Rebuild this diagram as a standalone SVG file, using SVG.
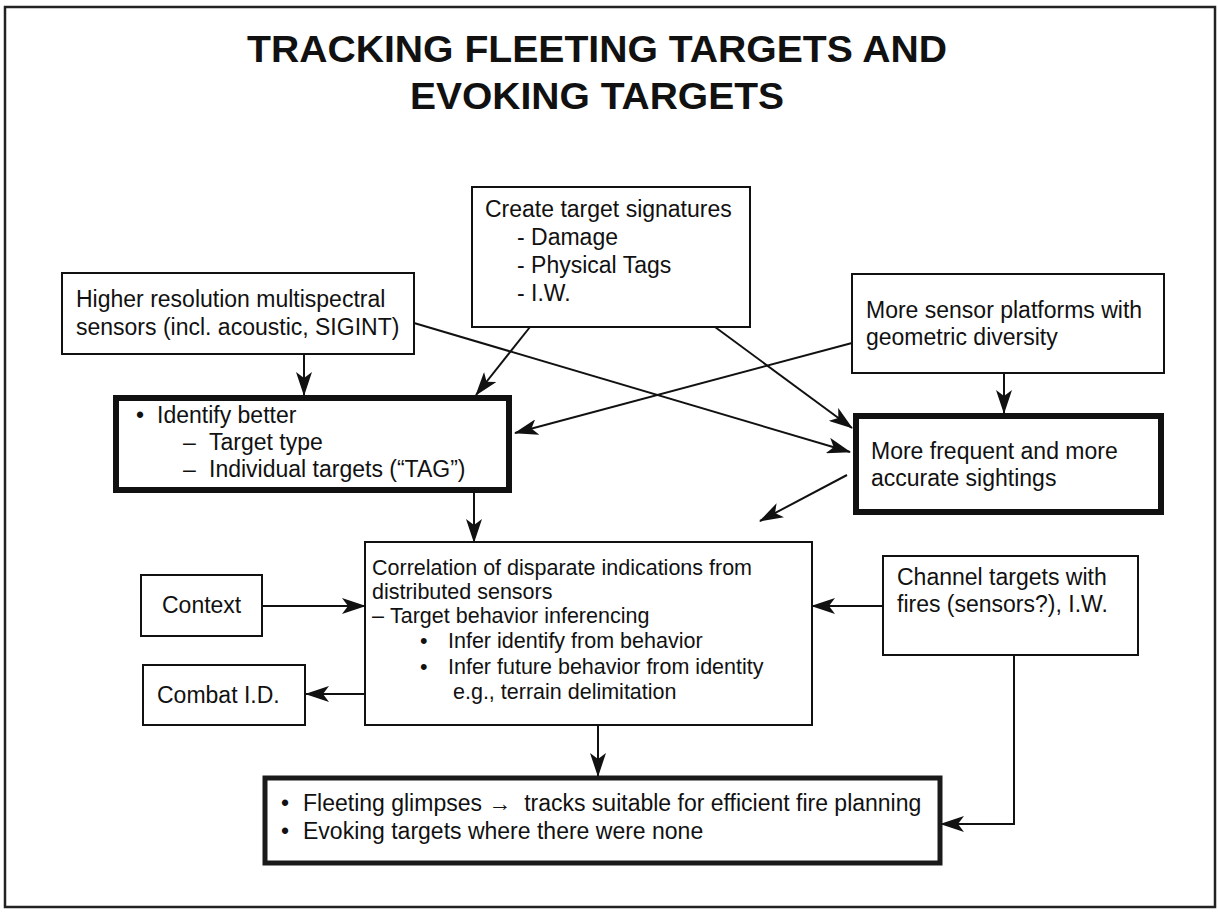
<svg xmlns="http://www.w3.org/2000/svg" width="1218" height="914" viewBox="0 0 1218 914">
<defs>
<style>
.t{font-family:"Liberation Sans",Arial,sans-serif;font-size:23px;fill:#111}
.c{font-family:"Liberation Sans",Arial,sans-serif;font-size:21.5px;fill:#111}
.title{font-family:"Liberation Sans",Arial,sans-serif;font-size:36px;font-weight:bold;fill:#111}
.box{fill:#fff;stroke:#111;stroke-width:2}
.thick{fill:#fff;stroke:#111;stroke-width:6}
.thick5{fill:#fff;stroke:#1a1a1a;stroke-width:5}
.ln{fill:none;stroke:#111;stroke-width:2;marker-end:url(#ah)}
</style>
<marker id="ah" viewBox="0 0 24 16" refX="23" refY="8" markerWidth="24" markerHeight="16" markerUnits="userSpaceOnUse" orient="auto">
<path d="M0,0 L24,8 L0,16 L6,8 z" fill="#111"/>
</marker>
</defs>
<rect x="0" y="0" width="1218" height="914" fill="#fff"/>
<rect x="5" y="7" width="1210" height="900" fill="none" stroke="#222" stroke-width="2.5"/>
<g id="title">
<text class="title" x="597" y="62" text-anchor="middle" textLength="700" lengthAdjust="spacingAndGlyphs">TRACKING FLEETING TARGETS AND</text>
<text class="title" x="597" y="109" text-anchor="middle" textLength="374" lengthAdjust="spacingAndGlyphs">EVOKING TARGETS</text>
</g>
<g id="connectors">
<path class="ln" d="M304,354 V395"/>
<path class="ln" d="M530,327 L476,395"/>
<path class="ln" d="M414,323 L850,452"/>
<path class="ln" d="M715,327 L852,428"/>
<path class="ln" d="M852,343 L515,433"/>
<path class="ln" d="M1004,373 V413"/>
<path class="ln" d="M474,493 V542"/>
<path class="ln" d="M847,475 L760,521"/>
<path class="ln" d="M262,606 H365"/>
<path class="ln" d="M883,606 H812"/>
<path class="ln" d="M365,694 H306"/>
<path class="ln" d="M598,725 V776"/>
<path class="ln" d="M1014,655 V824 H941"/>
<path class="ln" d="M375,654 V641 H402"/>
<path class="ln" d="M375,654 V667 H402"/>
<path class="ln" d="M802,654 V641 H773"/>
<path class="ln" d="M802,654 V667 H773"/>
</g>
<g id="higher">
<rect class="box" x="62" y="273" width="352" height="81"/>
<text class="t" x="76" y="307">Higher resolution multispectral</text>
<text class="t" x="76" y="335">sensors (incl. acoustic, SIGINT)</text>
</g>
<g id="create">
<rect class="box" x="472" y="187" width="278" height="140"/>
<text class="t" x="485" y="217">Create target signatures</text>
<text class="t" x="517" y="245">- Damage</text>
<text class="t" x="517" y="273">- Physical Tags</text>
<text class="t" x="517" y="301">- I.W.</text>
</g>
<g id="sensor-platforms">
<rect class="box" x="852" y="274" width="312" height="99"/>
<text class="t" x="866" y="318">More sensor platforms with</text>
<text class="t" x="866" y="345">geometric diversity</text>
</g>
<g id="identify">
<rect class="thick" x="116" y="398" width="393" height="92"/>
<text class="t" x="136" y="423">•</text>
<text class="t" x="157" y="423">Identify better</text>
<text class="t" x="183" y="450">–</text>
<text class="t" x="209" y="450">Target type</text>
<text class="t" x="183" y="477">–</text>
<text class="t" x="209" y="477">Individual targets (“TAG”)</text>
</g>
<g id="sightings">
<rect class="thick" x="856" y="416" width="305" height="96"/>
<text class="t" x="871" y="459">More frequent and more</text>
<text class="t" x="871" y="486">accurate sightings</text>
</g>
<g id="context">
<rect class="box" x="141" y="575" width="121" height="61"/>
<text class="t" x="162" y="613">Context</text>
</g>
<g id="combat">
<rect class="box" x="143" y="665" width="162" height="60"/>
<text class="t" x="157" y="703">Combat I.D.</text>
</g>
<g id="correlation">
<rect class="box" x="365" y="542" width="447" height="183"/>
<text class="c" x="372" y="575">Correlation of disparate indications from</text>
<text class="c" x="372" y="599">distributed sensors</text>
<text class="c" x="372" y="623">–</text>
<text class="c" x="390" y="623">Target behavior inferencing</text>
<text class="c" x="420" y="648">•</text>
<text class="c" x="448" y="648">Infer identify from behavior</text>
<text class="c" x="420" y="674">•</text>
<text class="c" x="448" y="674">Infer future behavior from identity</text>
<text class="c" x="453" y="699">e.g., terrain delimitation</text>
</g>
<g id="channel">
<rect class="box" x="883" y="556" width="255" height="99"/>
<text class="t" x="897" y="585">Channel targets with</text>
<text class="t" x="897" y="612">fires (sensors?), I.W.</text>
</g>
<g id="result">
<rect class="thick5" x="265" y="778" width="675" height="85"/>
<text class="t" x="281" y="811">•</text>
<text class="t" x="303" y="811" style="white-space:pre">Fleeting glimpses →  tracks suitable for efficient fire planning</text>
<text class="t" x="281" y="839">•</text>
<text class="t" x="303" y="839">Evoking targets where there were none</text>
</g>
</svg>
